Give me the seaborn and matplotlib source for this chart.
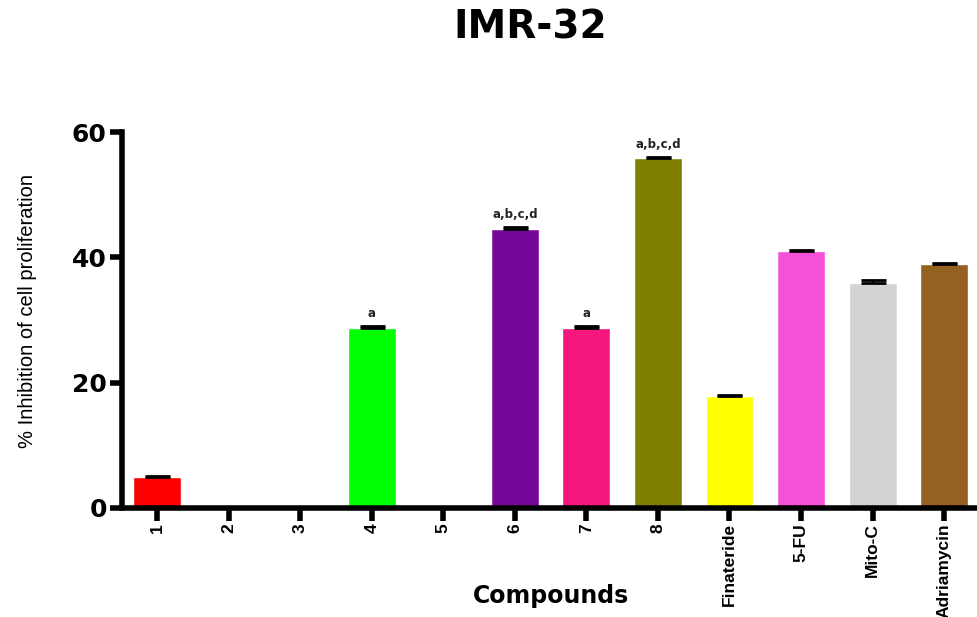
import numpy as np
import pandas as pd
import matplotlib
matplotlib.use("Agg")
import matplotlib.pyplot as plt
import seaborn as sns

# datos
compuestos = ['1', '2', '3', '4', '5', '6', '7', '8', 'Finateride', '5-FU', 'Mito-C', 'Adriamycin']
inhibicion = [4.9, 0, 0, 28.7, 0, 44.5, 28.7, 55.8, 17.9, 41.0, 35.9, 38.9]
error = [0.15, 0, 0, 0.3, 0, 0.35, 0.35, 0.2, 0.15, 0.15, 0.4, 0.15]
etiquetas = ['', '', '', 'a', '', 'a,b,c,d', 'a', 'a,b,c,d', '', '', '', '']
colores = ['#FF0000', '#7F7F7F', '#7F7F7F', '#00FF00', '#7F7F7F', '#760899',
           '#F5167E', '#808000', '#FFFF00', '#F550D8', '#D3D3D3', '#956121']

df = pd.DataFrame({'compuesto': compuestos, 'inhibicion': inhibicion, 'error': error})

sns.set_style("ticks")
plt.rcParams['font.family'] = ['Liberation Sans', 'DejaVu Sans']
for k in ['text.color', 'axes.labelcolor', 'xtick.color', 'ytick.color', 'axes.edgecolor']:
    plt.rcParams[k] = 'black'

fig = plt.figure(figsize=(9.77, 6.17), dpi=100)
ax = fig.add_axes([0.125, 0.177, 0.875, 0.609])

sns.barplot(data=df, x='compuesto', y='inhibicion', hue='compuesto', palette=colores,
            legend=False, width=0.67, errorbar=None, ax=ax, saturation=1)

x = np.arange(len(compuestos))
ax.errorbar(x, df['inhibicion'], yerr=[np.zeros(len(x)), df['error']], fmt='none',
            ecolor='black', elinewidth=1.5, capsize=9, capthick=2)

for xi, v, e, t in zip(x, inhibicion, error, etiquetas):
    if t:
        ax.text(xi, v + e + 1.0, t, ha='center', va='bottom', fontsize=8.5,
                fontweight='bold', color='#222222', family=['DejaVu Sans'])

ax.set_ylim(0, 60)
ax.set_xlim(-0.49, len(compuestos) - 0.54)
ax.set_yticks([0, 20, 40, 60])
ax.set_yticklabels(['0', '20', '40', '60'], fontsize=18, fontweight='heavy',
                   family=['DejaVu Sans'])
ax.set_xticks(x)
ax.set_xticklabels(compuestos, rotation=90, fontsize=12.5, fontweight='bold')

sns.despine(ax=ax)
for s in ['left', 'bottom']:
    ax.spines[s].set_linewidth(4)
ax.tick_params(axis='both', width=4, length=9, direction='out', pad=2)

ax.set_ylabel('% Inhibition of cell proliferation', fontsize=14.5)
ax.yaxis.set_label_coords(-0.1, 0.524)
ax.set_xlabel('Compounds', fontsize=17, fontweight='bold', family=['DejaVu Sans'])
ax.xaxis.set_label_coords(0.502, -0.203)

fig.text(0.5425, 0.956, 'IMR-32', ha='center', va='center', fontsize=28,
         fontweight='bold', family=['DejaVu Sans'])

fig.savefig('out.png', dpi=100)
